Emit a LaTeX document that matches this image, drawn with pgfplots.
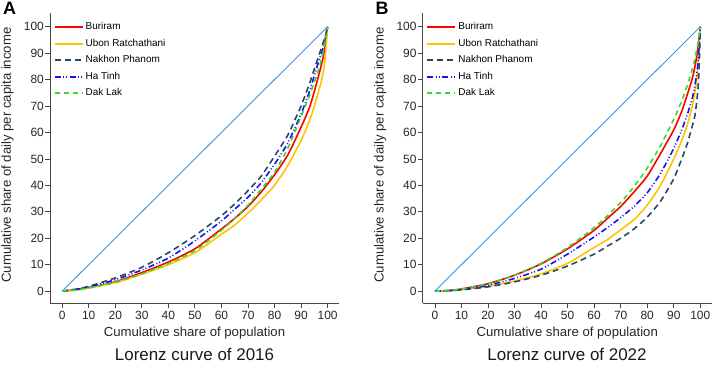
\documentclass[border=0pt]{standalone}
\usepackage{fontspec}
\setmainfont{Liberation Sans}
\usepackage{pgfplots}
\pgfplotsset{compat=1.18}
\definecolor{cRed}{RGB}{255,0,0}
\definecolor{cGold}{RGB}{255,196,0}
\definecolor{cNavy}{RGB}{40,72,104}
\definecolor{cBlue}{RGB}{20,20,240}
\definecolor{cGreen}{RGB}{50,220,50}
\definecolor{cEq}{RGB}{60,145,230}
\definecolor{cAx}{RGB}{70,70,70}
\pgfplotsset{
 lorenz/.style={
  scale only axis, width=289bp, height=290bp,
  xmin=-4.6, xmax=104.3, ymin=-4.5, ymax=105.2,
  axis x line=bottom, axis y line=left,
  axis line style={-, draw=cAx, line width=0.8bp},
  xtick={0,10,...,100}, ytick={0,10,...,100},
  tick align=outside, major tick length=5bp,
  tick style={cAx, line width=0.8bp},
  /pgf/number format/assume math mode=true,
  xticklabel={\fontsize{12}{14}\selectfont\pgfmathprintnumber[assume math mode=true]{\tick}},
  yticklabel={\fontsize{12}{14}\selectfont\pgfmathprintnumber[assume math mode=true]{\tick}},
  tick label style={text=black!85},
  yticklabel style={inner xsep=1bp},
  xticklabel style={inner ysep=2.5bp},
  xlabel={Cumulative share of population},
  ylabel={Cumulative share of daily per capita income},
  label style={font=\fontsize{13.2}{15}\selectfont, text=black!85},
  xlabel style={at={(axis description cs:0.5,-0.103)}, anchor=center},
  ylabel style={at={(axis description cs:-0.147,0.51)}, anchor=center},
  legend cell align=left,
  legend image code/.code={\draw[#1, line width=2bp] (0bp,0bp) -- (28bp,0bp);},
  legend style={at={(axis description cs:0,1)}, anchor=north west,
    xshift=0.5bp, yshift=-5.5bp, draw=none, fill=none,
    font=\fontsize{10}{11}\selectfont, row sep=3.8bp},
 },
}
\begin{document}
\begin{tikzpicture}
\path[use as bounding box] (0bp,0bp) rectangle (714bp,365bp);
% Panel A
\begin{axis}[lorenz, at={(50bp,62bp)}, anchor=south west]
\addplot[forget plot, draw=cEq, line width=0.9bp] coordinates {(0,0) (100,100)};
\addplot[draw=cRed, line width=1.6bp, smooth, tension=0.4] coordinates {(0,0)(5,0.5)(10,1.3)(20,3.5)(30,7)(40,11)(50,16)(60,23.5)(65,27.5)(70,32)(75,37.5)(80,44)(85,51.5)(90,62)(93,69)(95,75.5)(97,83)(98,87)(99,92)(100,100)};
\addlegendentry{Buriram}
\addplot[draw=cGold, line width=1.6bp, smooth, tension=0.4] coordinates {(0,0)(5,0.4)(10,1.2)(20,3.2)(30,6.4)(40,10)(50,14.5)(60,21.5)(65,25)(70,29.5)(75,34.5)(80,40)(85,47.5)(90,57)(93,64)(95,70)(97,77)(98,81)(99,87)(100,100)};
\addlegendentry{Ubon Ratchathani}
\addplot[draw=cNavy, line width=1.6bp, dash pattern=on 6bp off 4bp, smooth, tension=0.4] coordinates {(0,0)(5,0.7)(10,1.8)(20,5)(30,9)(40,14.5)(50,21)(60,28.5)(65,33)(70,38)(75,43.5)(80,51)(85,59)(88,65.5)(90,70)(93,78)(95,84)(97,90)(98,93)(99,96)(100,100)};
\addlegendentry{Nakhon Phanom}
\addplot[draw=cBlue, line width=1.6bp, dash pattern=on 6bp off 2.5bp on 1bp off 2bp on 1bp off 2.5bp, smooth, tension=0.4] coordinates {(0,0)(5,0.6)(10,1.5)(20,4.3)(30,8)(40,12.5)(50,19)(60,26.5)(65,31)(70,35.5)(75,41)(80,48)(85,56)(90,67)(93,75)(95,81.5)(97,88)(98,91)(99,95)(100,100)};
\addlegendentry{Ha Tinh}
\addplot[draw=cGreen, line width=1.6bp, dash pattern=on 5bp off 4bp, smooth, tension=0.4] coordinates {(0,0)(5,0.4)(10,1.2)(20,3.3)(30,6.5)(40,10.5)(50,15.3)(60,23)(65,27.5)(70,32.5)(75,38.5)(80,45)(85,54)(90,66)(93,73.5)(95,79)(97,85)(98,89)(99,94)(100,100)};
\addlegendentry{Dak Lak}
\end{axis}
% Panel B
\begin{axis}[lorenz, at={(422.7bp,62bp)}, anchor=south west]
\addplot[forget plot, draw=cEq, line width=0.9bp] coordinates {(0,0) (100,100)};
\addplot[draw=cRed, line width=1.6bp, smooth, tension=0.4] coordinates {(0,0)(5,0.2)(10,0.8)(20,2.8)(30,6)(40,10.3)(50,16)(60,23)(65,27.5)(70,32)(75,37.5)(80,43.5)(85,52)(90,61)(93,68)(95,74)(97,80.5)(98,85)(99,91)(100,100)};
\addlegendentry{Buriram}
\addplot[draw=cGold, line width=1.6bp, smooth, tension=0.4] coordinates {(0,0)(5,0.15)(10,0.5)(20,1.8)(30,3.8)(40,6.5)(50,10.5)(60,16.5)(65,19.5)(70,23.2)(75,27)(80,32.5)(85,40)(90,50)(93,57)(95,62.5)(97,70)(98,75.5)(99,83)(100,100)};
\addlegendentry{Ubon Ratchathani}
\addplot[draw=cNavy, line width=1.6bp, dash pattern=on 6bp off 4bp, smooth, tension=0.4] coordinates {(0,0)(5,0.15)(10,0.5)(20,1.6)(30,3.5)(40,6)(50,9.5)(60,14)(65,17)(70,20)(75,23.5)(80,28)(85,34)(90,42.5)(93,50)(95,55.5)(97,62.5)(98,66.5)(99,75)(99.5,83)(100,100)};
\addlegendentry{Nakhon Phanom}
\addplot[draw=cBlue, line width=1.6bp, dash pattern=on 6bp off 2.5bp on 1bp off 2bp on 1bp off 2.5bp, smooth, tension=0.4] coordinates {(0,0)(5,0.2)(10,0.6)(20,2.2)(30,4.8)(40,8.3)(50,14)(60,20.5)(65,24)(70,27.8)(75,32)(80,37.2)(85,44.5)(90,54)(93,61)(95,66.5)(97,73)(98,78)(99,85)(100,100)};
\addlegendentry{Ha Tinh}
\addplot[draw=cGreen, line width=1.6bp, dash pattern=on 5bp off 4bp, smooth, tension=0.4] coordinates {(0,0)(5,0.2)(10,0.8)(20,2.8)(30,6)(40,10.5)(50,16.5)(60,24)(65,28.5)(70,33.5)(75,39.5)(80,46.5)(85,55)(90,65)(93,72)(95,77.5)(97,84)(98,88)(99,93)(100,100)};
\addlegendentry{Dak Lak}
\end{axis}
\node[font=\fontsize{17}{19}\selectfont, text=black!90] at (194.5bp,11bp) {Lorenz curve of 2016};
\node[font=\fontsize{17}{19}\selectfont, text=black!90] at (567bp,11bp) {Lorenz curve of 2022};
\node[font=\bfseries\fontsize{18}{20}\selectfont] at (9.5bp,356.5bp) {A};
\node[font=\bfseries\fontsize{18}{20}\selectfont] at (382bp,356.5bp) {B};
\end{tikzpicture}
\end{document}
